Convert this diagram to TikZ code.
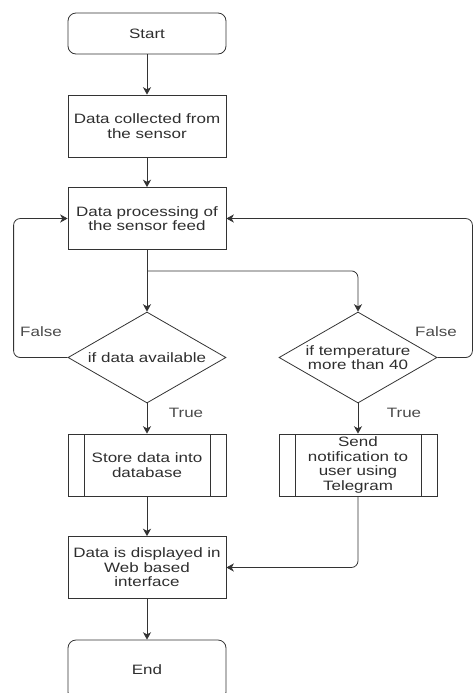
\documentclass[tikz,border=0pt]{standalone}
\usepackage{fontspec}
\setmainfont{Liberation Sans}[FakeStretch=1.25]
\usepackage{tikz}
\usetikzlibrary{calc,positioning,shapes.geometric,arrows.meta}
\definecolor{LineGrey}{HTML}{333333}
\definecolor{TextGrey}{HTML}{2E2E2E}
\definecolor{LabelGrey}{HTML}{4A4A4A}
\tikzset{
  base/.style={draw=LineGrey,line width=0.6pt,text=TextGrey,align=center,
    font=\fontsize{10.2pt}{10.8pt}\selectfont,minimum width=118.5pt,inner sep=1pt},
  terminal/.style={base,rounded corners=6pt,minimum height=30.75pt},
  process/.style={base,minimum height=46.5pt},
  subproc/.style={process,path picture={
    \draw[LineGrey,line width=0.6pt]
      ([xshift=12pt]path picture bounding box.north west) -- ([xshift=12pt]path picture bounding box.south west)
      ([xshift=-12pt]path picture bounding box.north east) -- ([xshift=-12pt]path picture bounding box.south east);}},
  decision/.style={base,diamond,shape aspect=1.736,inner sep=0pt,minimum width=118.5pt,minimum height=68.25pt},
  arr/.style={draw=LineGrey,line width=0.6pt,-{Stealth[length=5.5pt,width=6pt,inset=1.5pt]}},
  lbl/.style={text=LabelGrey,font=\fontsize{10.2pt}{10.8pt}\selectfont,inner sep=0pt}
}
\begin{document}
\begin{tikzpicture}[x=0.75pt,y=-0.75pt]
  \useasboundingbox (0,0) rectangle (473,693);

  % Nodes
  \node[terminal] (start)   at (147,33.5)  {Start};
  \node[process]  (collect) at (147,126)   {Data collected from\\the sensor};
  \node[process]  (proc)    at (147,218.5) {Data processing of\\the sensor feed};
  \node[decision] (chkdata) at (147,357.5) {if data available};
  \node[decision] (chktemp) at (358,357.5) {if temperature\\more than 40};
  \node[subproc]  (store)   at (147,465)   {Store data into\\database};
  \node[subproc]  (notify)  at (358,465)   {Send\\notification to\\user using\\Telegram};
  \node[process]  (display) at (147,567.5) {Data is displayed in\\Web based\\interface};
  \node[terminal,minimum height=45pt] (finish) at (147,670) {End};

  % Main flow
  \draw[arr] (start) -- (collect);
  \draw[arr] (collect) -- (proc);
  \draw[arr] (proc) -- (chkdata);
  \path (proc.south) ++(0,21) coordinate (split);
  \draw[arr,rounded corners=5pt] (split) -| (chktemp.north);
  \draw[arr] (chkdata) -- (store);
  \draw[arr] (chktemp) -- (notify);
  \draw[arr] (store) -- (display);
  \draw[arr,rounded corners=5pt] (notify.south) |- (display.east);
  \draw[arr] (display) -- (finish);

  % Loops back
  \draw[arr,rounded corners=5pt] (chkdata.west) -- ++(-54,0) |- (proc.west);
  \draw[arr,rounded corners=5pt] (chktemp.east) -- ++(35,0) |- (proc.east);

  % Labels
  \node[lbl] (fl) at (41,332)  {False};
  \node[lbl] (fr) at (436,332) {False};
  \node[lbl] (tl) at (186,413) {True};
  \node[lbl] (tr) at (404,413) {True};
\end{tikzpicture}
\end{document}
